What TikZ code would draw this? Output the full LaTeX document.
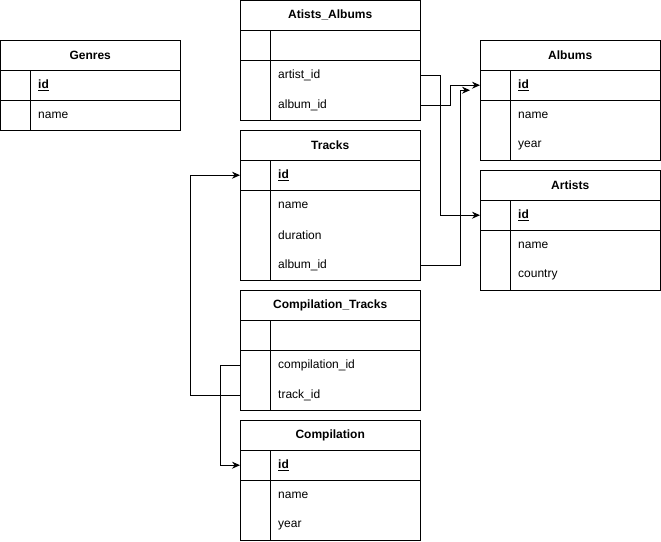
\documentclass[tikz,border=0pt]{standalone}
\usepackage{fontspec}
\setmainfont{Liberation Sans}
\usetikzlibrary{arrows.meta}
\begin{document}
\begin{tikzpicture}[x=1pt,y=-1pt,
  every node/.style={font=\fontsize{12}{14}\selectfont},
  hdr/.style={minimum width=180pt, minimum height=30pt, anchor=north west, inner sep=0pt, font=\fontsize{12}{14}\selectfont\bfseries},
  fld/.style={minimum height=30pt, text width=104pt, inner xsep=38pt, inner ysep=0pt, align=left, anchor=north west},
  tbl/.style={line width=1pt, draw=black},
  conn/.style={line width=1pt, -{Stealth[length=8pt,width=7pt]}}
]
\useasboundingbox (0,0) rectangle (661,541);

% Genres
\draw[tbl] (0,40) rectangle (180,130) (0,70) -- (180,70) (0,100) -- (180,100) (30,70) -- (30,130);
\node[hdr] (g-h) at (0,40) {Genres};
\node[fld] (g-id) at (0,70) {\underline{\textbf{id}}};
\node[fld] (g-name) at (0,100) {name};

% Atists_Albums
\draw[tbl] (240,0) rectangle (420,120) (240,30) -- (420,30) (240,60) -- (420,60) (270,30) -- (270,120);
\node[hdr] (aa-h) at (240,0) {Atists\_Albums};
\node[fld] (aa-artist) at (240,60) {artist\_id};
\node[fld] (aa-album) at (240,90) {album\_id};

% Albums
\draw[tbl] (480,40) rectangle (660,160) (480,70) -- (660,70) (480,100) -- (660,100) (510,70) -- (510,160);
\node[hdr] (al-h) at (480,40) {Albums};
\node[fld] (al-id) at (480,70) {\underline{\textbf{id}}};
\node[fld] (al-name) at (480,100) {name};
\node[fld] (al-year) at (480,130) {year};

% Artists
\draw[tbl] (480,170) rectangle (660,290) (480,200) -- (660,200) (480,230) -- (660,230) (510,200) -- (510,290);
\node[hdr] (ar-h) at (480,170) {Artists};
\node[fld] (ar-id) at (480,200) {\underline{\textbf{id}}};
\node[fld] (ar-name) at (480,230) {name};
\node[fld] (ar-country) at (480,260) {country};

% Tracks
\draw[tbl] (240,130) rectangle (420,280) (240,160) -- (420,160) (240,190) -- (420,190) (270,160) -- (270,280);
\node[hdr] (tr-h) at (240,130) {Tracks};
\node[fld] (tr-id) at (240,160) {\underline{\textbf{id}}};
\node[fld] (tr-name) at (240,190) {name};
\node[fld] (tr-dur) at (240,220) {duration};
\node[fld] (tr-album) at (240,250) {album\_id};

% Compilation_Tracks
\draw[tbl] (240,290) rectangle (420,410) (240,320) -- (420,320) (240,350) -- (420,350) (270,320) -- (270,410);
\node[hdr] (ct-h) at (240,290) {Compilation\_Tracks};
\node[fld] (ct-comp) at (240,350) {compilation\_id};
\node[fld] (ct-track) at (240,380) {track\_id};

% Compilation
\draw[tbl] (240,420) rectangle (420,540) (240,450) -- (420,450) (240,480) -- (420,480) (270,450) -- (270,540);
\node[hdr] (co-h) at (240,420) {Compilation};
\node[fld] (co-id) at (240,450) {\underline{\textbf{id}}};
\node[fld] (co-name) at (240,480) {name};
\node[fld] (co-year) at (240,510) {year};

% Connectors
\draw[conn] (aa-artist.east) -- ++(20,0) |- (ar-id.west);
\draw[conn] (aa-album.east) -- ++(30,0) |- (al-id.west);
\draw[conn] (tr-album.east) -- ++(40,0) |- ([xshift=-10pt,yshift=-5pt]al-id.west);
\draw[conn] (ct-track.west) -- ++(-50,0) |- (tr-id.west);
\draw[conn] (ct-comp.west) -- ++(-20,0) |- (co-id.west);
\end{tikzpicture}
\end{document}
